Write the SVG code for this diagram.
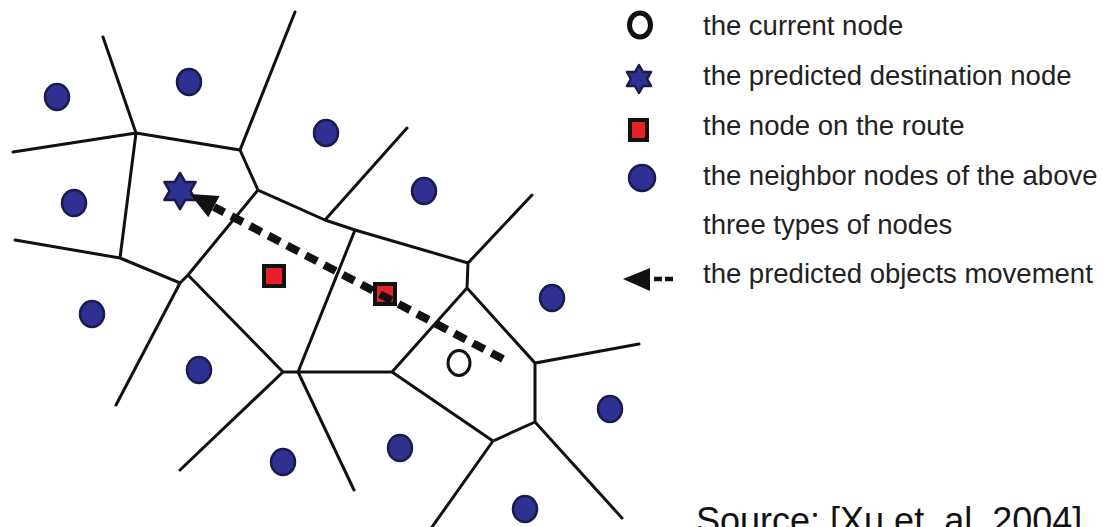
<svg xmlns="http://www.w3.org/2000/svg" width="1103" height="527" viewBox="0 0 1103 527">
<style>
.edge{stroke:#111;stroke-width:3;fill:none;stroke-linecap:round}
.nb{fill:#2E3192;stroke:#1B1B4B;stroke-width:2.5}
.route{fill:#E8202A;stroke:#111;stroke-width:4}
.star{fill:#2E3192;stroke:#1B1B4B;stroke-width:2.5;stroke-linejoin:round}
.cur{fill:#fff;stroke:#111}
.lg{font-family:"Liberation Sans",Arial,sans-serif;font-size:27.5px;fill:#222}
.src{font-family:"Liberation Sans",Arial,sans-serif;font-size:36px;fill:#111}
</style>
<rect width="1103" height="527" fill="#fff"/>
<g id="voronoi">
<path class="edge" d="M103,37 L136,133 L13,152 M136,133 L120,258 L15,240 M136,133 L240,150 L295,12 M240,150 L258,190 L325,220 L407,128 M325,220 L355,230 L468,263 L532,195 M468,263 L467,288 L392,372 M467,288 L535,363 L639,344 M535,363 L535,422 L622,518 M535,422 L493,441 L392,372 M493,441 L432,527 M392,372 L298,372 L354,490 M298,372 L355,230 M298,372 L283,372 L180,470 M283,372 L188,275 L258,190 M188,275 L180,283 L120,258 M180,283 L116,405"/>
</g>
<g id="neighbors">
<ellipse class="nb" cx="57" cy="97" rx="12" ry="13"/>
<ellipse class="nb" cx="189" cy="82" rx="12" ry="13"/>
<ellipse class="nb" cx="326" cy="133" rx="12" ry="13"/>
<ellipse class="nb" cx="424" cy="191" rx="12" ry="13"/>
<ellipse class="nb" cx="74" cy="203" rx="12" ry="13"/>
<ellipse class="nb" cx="92" cy="314" rx="12" ry="13"/>
<ellipse class="nb" cx="199" cy="370" rx="12" ry="13"/>
<ellipse class="nb" cx="283" cy="462" rx="12" ry="13"/>
<ellipse class="nb" cx="400" cy="448" rx="12" ry="13"/>
<ellipse class="nb" cx="525" cy="509" rx="12" ry="13"/>
<ellipse class="nb" cx="610" cy="409" rx="12" ry="13"/>
<ellipse class="nb" cx="552" cy="298" rx="12" ry="13"/>
</g>
<g id="route-nodes">
<rect class="route" x="264" y="266" width="20" height="20"/>
<rect class="route" x="375" y="284" width="20" height="20"/>
</g>
<g id="current-node">
<ellipse class="cur" cx="459" cy="363" rx="11" ry="12.5" stroke-width="3"/>
</g>
<g id="destination-node">
<path class="star" d="M180,173 L185.2,182 L195.6,182 L190.4,191 L195.6,200 L185.2,200 L180,209 L174.8,200 L164.4,200 L169.6,191 L164.4,182 L174.8,182 Z"/>
</g>
<g id="connectors">
<path d="M503,359 L214,207" stroke="#111" stroke-width="8" stroke-dasharray="13 8" fill="none"/>
<polygon points="190,194 219.5,196 208.3,217.2" fill="#111"/>
</g>
<g id="legend">
<ellipse class="cur" cx="640" cy="25" rx="10.5" ry="12" stroke-width="5"/>
<path class="star" d="M639,65 L643.04,72 L651.12,72 L647.08,79 L651.12,86 L643.04,86 L639,93 L634.96,86 L626.88,86 L630.92,79 L626.88,72 L634.96,72 Z"/>
<rect class="route" x="630" y="120" width="17" height="20"/>
<ellipse class="nb" cx="642" cy="178" rx="13" ry="13"/>
<polygon points="623,279 650,268 650,291" fill="#111"/>
<line x1="654" y1="279" x2="673" y2="279" stroke="#111" stroke-width="4.5" stroke-dasharray="8 3"/>
<text class="lg" x="703" y="35">the current node</text>
<text class="lg" x="703" y="85">the predicted destination node</text>
<text class="lg" x="703" y="135">the node on the route</text>
<text class="lg" x="703" y="185">the neighbor nodes of the above</text>
<text class="lg" x="703" y="234">three types of nodes</text>
<text class="lg" x="703" y="283">the predicted objects movement</text>
</g>
<text class="src" x="696" y="533">Source: [Xu et. al. 2004]</text>
</svg>
